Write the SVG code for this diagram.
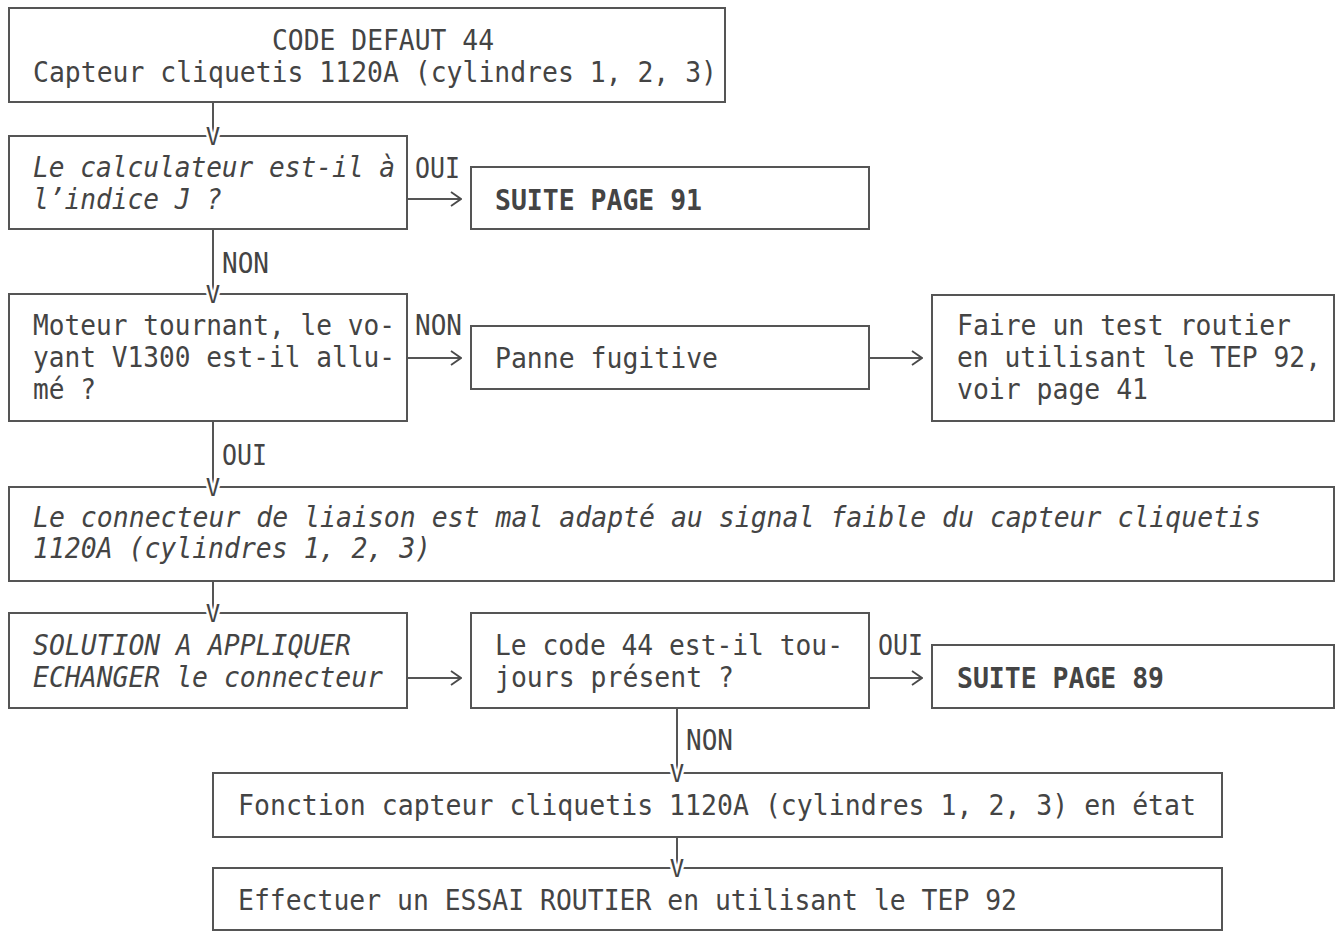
<svg xmlns="http://www.w3.org/2000/svg" width="1336" height="931" viewBox="0 0 1336 931">
<defs>
<marker id="chev" viewBox="0 0 12 16" refX="11" refY="8" markerWidth="12" markerHeight="16" markerUnits="userSpaceOnUse" orient="auto">
<polyline points="1,1 11,8 1,15" fill="none" stroke="#4a4a4a" stroke-width="1.8"/>
</marker>
<style>
rect.b{fill:#fff;stroke:#555;stroke-width:2}
text{font-family:"DejaVu Sans Mono","Liberation Mono",monospace;font-size:29px;fill:#444}
.i{font-style:italic}
.bd{font-weight:bold}
.v{stroke:#fff;stroke-width:5;paint-order:stroke;text-anchor:middle;font-size:24px}
.c line{stroke:#555;stroke-width:2}
.c line.a{marker-end:url(#chev)}
</style>
</defs>
<rect width="1336" height="931" fill="#fff"/>
<g class="c" id="connectors">
<line x1="213" y1="102" x2="213" y2="136"/>
<line class="a" x1="407" y1="199" x2="461" y2="199"/>
<line x1="213" y1="230" x2="213" y2="294"/>
<line class="a" x1="407" y1="358" x2="461" y2="358"/>
<line class="a" x1="869" y1="358" x2="922" y2="358"/>
<line x1="213" y1="421" x2="213" y2="487"/>
<line x1="213" y1="581" x2="213" y2="613"/>
<line class="a" x1="407" y1="678" x2="461" y2="678"/>
<line class="a" x1="869" y1="678" x2="922" y2="678"/>
<line x1="677" y1="708" x2="677" y2="773"/>
<line x1="677" y1="837" x2="677" y2="868"/>
<text x="415" y="178" textLength="45" lengthAdjust="spacingAndGlyphs">OUI</text>
<text x="222" y="273" textLength="47" lengthAdjust="spacingAndGlyphs">NON</text>
<text x="415" y="335" textLength="47" lengthAdjust="spacingAndGlyphs">NON</text>
<text x="222" y="465" textLength="45" lengthAdjust="spacingAndGlyphs">OUI</text>
<text x="878" y="655" textLength="45" lengthAdjust="spacingAndGlyphs">OUI</text>
<text x="686" y="750" textLength="47" lengthAdjust="spacingAndGlyphs">NON</text>
</g>
<g id="n1"><rect class="b" x="9" y="8" width="716" height="94"/>
<text x="272" y="50" textLength="222" lengthAdjust="spacingAndGlyphs">CODE DEFAUT 44</text>
<text x="33" y="82" textLength="684" lengthAdjust="spacingAndGlyphs">Capteur cliquetis 1120A (cylindres 1, 2, 3)</text></g>
<g id="n2"><rect class="b" x="9" y="136" width="398" height="93"/>
<text class="v" x="213" y="145">V</text>
<text class="i" x="33" y="177" textLength="362" lengthAdjust="spacingAndGlyphs">Le calculateur est-il à</text>
<text class="i" x="33" y="209" textLength="189" lengthAdjust="spacingAndGlyphs">l’indice J ?</text></g>
<g id="n3"><rect class="b" x="471" y="167" width="398" height="62"/>
<text class="bd" x="495" y="210" textLength="207" lengthAdjust="spacingAndGlyphs">SUITE PAGE 91</text></g>
<g id="n4"><rect class="b" x="9" y="294" width="398" height="127"/>
<text class="v" x="213" y="303">V</text>
<text x="33" y="335" textLength="362" lengthAdjust="spacingAndGlyphs">Moteur tournant, le vo-</text>
<text x="33" y="367" textLength="362" lengthAdjust="spacingAndGlyphs">yant V1300 est-il allu-</text>
<text x="33" y="399" textLength="63" lengthAdjust="spacingAndGlyphs">mé ?</text></g>
<g id="n5"><rect class="b" x="471" y="326" width="398" height="63"/>
<text x="495" y="368" textLength="223" lengthAdjust="spacingAndGlyphs">Panne fugitive</text></g>
<g id="n6"><rect class="b" x="932" y="295" width="402" height="126"/>
<text x="957" y="335" textLength="334" lengthAdjust="spacingAndGlyphs">Faire un test routier</text>
<text x="957" y="367" textLength="364" lengthAdjust="spacingAndGlyphs">en utilisant le TEP 92,</text>
<text x="957" y="399" textLength="191" lengthAdjust="spacingAndGlyphs">voir page 41</text></g>
<g id="n7"><rect class="b" x="9" y="487" width="1325" height="94"/>
<text class="v" x="213" y="496">V</text>
<text class="i" x="33" y="527" textLength="1228" lengthAdjust="spacingAndGlyphs">Le connecteur de liaison est mal adapté au signal faible du capteur cliquetis</text>
<text class="i" x="33" y="558" textLength="398" lengthAdjust="spacingAndGlyphs">1120A (cylindres 1, 2, 3)</text></g>
<g id="n8"><rect class="b" x="9" y="613" width="398" height="95"/>
<text class="v" x="213" y="622">V</text>
<text class="i" x="33" y="655" textLength="318" lengthAdjust="spacingAndGlyphs">SOLUTION A APPLIQUER</text>
<text class="i" x="33" y="687" textLength="350" lengthAdjust="spacingAndGlyphs">ECHANGER le connecteur</text></g>
<g id="n9"><rect class="b" x="471" y="613" width="398" height="95"/>
<text x="495" y="655" textLength="348" lengthAdjust="spacingAndGlyphs">Le code 44 est-il tou-</text>
<text x="495" y="687" textLength="239" lengthAdjust="spacingAndGlyphs">jours présent ?</text></g>
<g id="n10"><rect class="b" x="932" y="645" width="402" height="63"/>
<text class="bd" x="957" y="688" textLength="207" lengthAdjust="spacingAndGlyphs">SUITE PAGE 89</text></g>
<g id="n11"><rect class="b" x="213" y="773" width="1009" height="64"/>
<text class="v" x="677" y="782">V</text>
<text x="238" y="815" textLength="958" lengthAdjust="spacingAndGlyphs">Fonction capteur cliquetis 1120A (cylindres 1, 2, 3) en état</text></g>
<g id="n12"><rect class="b" x="213" y="868" width="1009" height="62"/>
<text class="v" x="677" y="877">V</text>
<text x="238" y="910" textLength="779" lengthAdjust="spacingAndGlyphs">Effectuer un ESSAI ROUTIER en utilisant le TEP 92</text></g>
</svg>
